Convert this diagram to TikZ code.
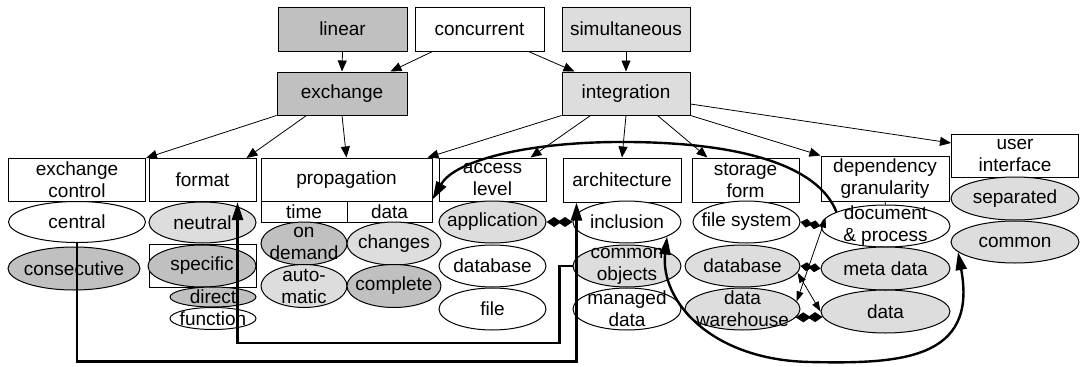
\documentclass[tikz,border=0pt]{standalone}
\usepackage{fontspec}
\setmainfont{Liberation Sans}
\usetikzlibrary{arrows.meta,shapes.geometric,calc}
\definecolor{dg}{RGB}{192,192,192}
\definecolor{lg}{RGB}{221,221,221}
\begin{document}
\begin{tikzpicture}[x=1pt,y=-1pt,
  every node/.style={font=\fontsize{19}{22}\selectfont},
  box/.style={draw, line width=1pt, rectangle, inner sep=0pt, align=center},
  ell/.style={draw, line width=1pt, ellipse, inner sep=0pt},
  tarr/.style={line width=0.8pt, -{Triangle[length=11pt,width=9pt]}},
  tdbl/.style={line width=0.8pt, {Triangle[length=10pt,width=7pt]}-{Triangle[length=10pt,width=7pt]}},
  karr/.style={line width=2.4pt, -{Triangle[length=18pt,width=11pt]}},
  kdbl/.style={line width=2.4pt, {Triangle[length=18pt,width=11pt]}-{Triangle[length=18pt,width=11pt]}},
  dia/.style={line width=2.4pt, {Diamond[length=15pt,width=10pt]}-{Diamond[length=15pt,width=10pt]}},
  sdia/.style={line width=2pt, {Diamond[length=12pt,width=9pt]}-{Diamond[length=12pt,width=9pt]}},
  plain/.style={line width=0.8pt}
]
\useasboundingbox (0,0) rectangle (1080,367);

% top boxes
\node[box, fill=dg, minimum width=129pt, minimum height=44pt] (linear) at (342.5,29) {linear};
\node[box, fill=white, minimum width=129pt, minimum height=44pt] (concurrent) at (479.5,29) {concurrent};
\node[box, fill=lg, minimum width=128pt, minimum height=44pt] (simult) at (626,29) {simultaneous};
\node[box, fill=dg, minimum width=130pt, minimum height=43pt] (exchange) at (342,93.5) {exchange};
\node[box, fill=lg, minimum width=128pt, minimum height=43pt] (integration) at (626,93.5) {integration};

% second row boxes
\node[box, minimum width=137pt, minimum height=43pt] (exctrl) at (77,180) {exchange\\control};
\node[box, minimum width=107pt, minimum height=43pt] (format) at (202.5,180) {format};
\node[box, minimum width=171pt, minimum height=43pt] (propagation) at (346.5,179.5) {propagation};
\node[box, minimum width=86pt, minimum height=21pt] (time) at (304,211.5) {time};
\node[box, minimum width=85pt, minimum height=21pt] (pdata) at (389.5,211.5) {data};
\node[box, minimum width=107pt, minimum height=43pt] (access) at (492.5,179.5) {access\\level};
\node[box, minimum width=118pt, minimum height=44pt] (architecture) at (622,180) {architecture};
\node[box, minimum width=107pt, minimum height=44pt] (storage) at (745.5,180) {storage\\form};
\node[box, minimum width=128pt, minimum height=45pt] (dependency) at (885,178.5) {dependency\\granularity};
\node[box, minimum width=127pt, minimum height=43pt] (userif) at (1015,155.5) {user\\interface};

% ellipses
\node[ell, fill=white, minimum width=137pt, minimum height=41pt, label=center:central] (central) at (77,222) {};
\node[ell, fill=dg, minimum width=132pt, minimum height=43pt, label=center:consecutive] (consecutive) at (74,268.5) {};
\node[ell, fill=lg, minimum width=107pt, minimum height=41pt, label=center:neutral] (neutral) at (202.5,222.5) {};
\node[box, minimum width=107pt, minimum height=43pt] (specbox) at (202.5,265.5) {};
\node[ell, fill=dg, minimum width=108pt, minimum height=42pt, label=center:specific] (specific) at (202,266) {};
\node[ell, fill=dg, minimum width=86pt, minimum height=20pt, label=center:direct] (direct) at (213,297) {};
\node[ell, fill=white, minimum width=86pt, minimum height=22pt, label=center:function] (function) at (213,318.5) {};
\node[ell, fill=dg, minimum width=86pt, minimum height=43pt, label={[align=center]center:{on\\demand}}] (ondemand) at (304,243.5) {};
\node[ell, fill=lg, minimum width=86pt, minimum height=43pt, label={[align=center]center:{auto-\\matic}}] (automatic) at (304,286) {};
\node[ell, fill=lg, minimum width=94pt, minimum height=43pt, label=center:changes] (changes) at (394,243.5) {};
\node[ell, fill=dg, minimum width=94pt, minimum height=43pt, label=center:complete] (complete) at (394,286) {};
\node[ell, fill=lg, minimum width=107pt, minimum height=42pt, label=center:application] (application) at (492.5,222) {};
\node[ell, fill=white, minimum width=107pt, minimum height=42pt, label=center:database] (database1) at (492.5,266) {};
\node[ell, fill=white, minimum width=107pt, minimum height=42pt, label=center:file] (file) at (492.5,309) {};
\node[ell, fill=white, minimum width=108pt, minimum height=42pt, label=center:inclusion] (inclusion) at (627,222) {};
\node[ell, fill=lg, minimum width=108pt, minimum height=42pt, label={[align=center]center:{common\\objects}}] (commonobj) at (627,266) {};
\node[ell, fill=white, minimum width=108pt, minimum height=42pt, label={[align=center]center:{managed\\data}}] (managed) at (627,309) {};
\node[ell, fill=white, minimum width=107pt, minimum height=42pt, label=center:file system] (filesystem) at (746.5,222) {};
\node[ell, fill=lg, minimum width=115pt, minimum height=42pt, label=center:database] (database2) at (742.5,266) {};
\node[ell, fill=lg, minimum width=115pt, minimum height=42pt, label={[align=center]center:{data\\warehouse}}] (warehouse) at (742.5,309) {};
\node[ell, fill=white, minimum width=129pt, minimum height=42pt, label={[align=center]center:{document\\\& process}}] (document) at (885.5,226) {};
\node[ell, fill=lg, minimum width=129pt, minimum height=43pt, label=center:meta data] (metadata) at (885.5,268.5) {};
\node[ell, fill=lg, minimum width=129pt, minimum height=43pt, label=center:data] (data) at (885.5,311.5) {};
\node[ell, fill=lg, minimum width=128pt, minimum height=43pt, label=center:separated] (separated) at (1015,198.5) {};
\node[ell, fill=lg, minimum width=128pt, minimum height=42pt, label=center:common] (common) at (1015,242) {};

% thin arrows from top
\draw[tarr] (linear.south) -- (exchange.north);
\draw[tarr] ([xshift=18pt]concurrent.south west) -- ([xshift=-17pt]exchange.north east);
\draw[tarr] ([xshift=-16pt]concurrent.south east) -- ([xshift=13pt]integration.north west);
\draw[tarr] (simult.south) -- (integration.north);
\draw[tarr] (exchange.south west) -- (exctrl.north east);
\draw[tarr] ([xshift=30pt]exchange.south west) -- ([xshift=-10pt]format.north east);
\draw[tarr] (exchange.south) -- (propagation.north);
\draw[tarr] (integration.south west) -- ([xshift=-5pt]propagation.north east);
\draw[tarr] ([xshift=29pt]integration.south west) -- ([xshift=-16pt]access.north east);
\draw[tarr] (integration.south) -- (architecture.north);
\draw[tarr] ([xshift=-33pt]integration.south east) -- ([xshift=16pt]storage.north west);
\draw[tarr] (integration.south east) -- (dependency.north west);
\draw[tarr] ([yshift=-10.5pt]integration.east) -- ([yshift=12.5pt]userif.west);

% small plain links
\draw[plain] (dependency.south) -- (document.north);
\draw[plain] (metadata.south) -- (data.north);

% thick connectors
\draw[karr] (central.south) -- ++(0,118.5) -| ([xshift=14pt]architecture.south west);
\draw[karr] (commonobj.west) -- ++(-13,0) -- ++(0,77) -| ([xshift=-19pt]format.south east);
\draw[dia] (application.east) -- (inclusion.west);
\draw[karr] (document.164) .. controls (818,165) and (740,143) .. (630,142)
  .. controls (530,141) and (455,160) .. ([yshift=2pt]propagation.south east);
\draw[kdbl] (inclusion.-20) .. controls (660,300) and (710,360) .. (810,362)
  .. controls (900,364) and (978,360) .. (common.190);

% storage / dependency links
\draw[sdia] (filesystem.east) -- (document.west);
\draw[sdia] (database2.east) -- (metadata.west);
\draw[dia] (warehouse.-9) -- (data.185);
\draw[tdbl] (warehouse.8) -- (document.172);
\draw[tdbl] (database2.-7) -- (data.west);
\end{tikzpicture}
\end{document}
